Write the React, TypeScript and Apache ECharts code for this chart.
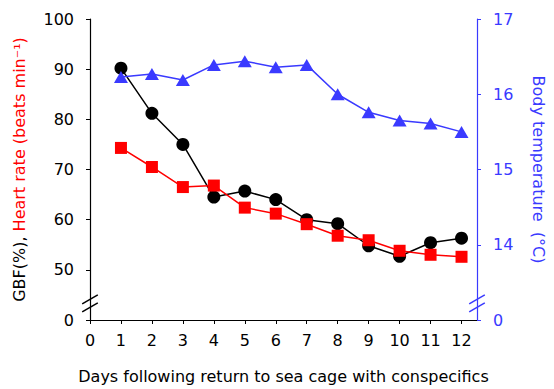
import React, { useEffect, useRef } from "react";
import * as echarts from "echarts";

const days = [1, 2, 3, 4, 5, 6, 7, 8, 9, 10, 11, 12];
const gbf = [90.2, 81.2, 75.0, 64.5, 65.7, 64.0, 60.0, 59.2, 54.8, 52.7, 55.4, 56.3];
const heartRate = [74.3, 70.5, 66.5, 66.8, 62.4, 61.2, 59.1, 56.8, 55.9, 53.8, 53.0, 52.6];
const bodyTemp = [16.23, 16.27, 16.19, 16.39, 16.44, 16.36, 16.39, 16.0, 15.76, 15.65, 15.61, 15.5];
const xTicks = [0, 1, 2, 3, 4, 5, 6, 7, 8, 9, 10, 11, 12];

const BLUE = "#3a3aff";
const RED = "#ff0000";
const FONT = "'DejaVu Sans', 'Liberation Sans', Arial, sans-serif";

export default function App() {
  const ref = useRef<HTMLDivElement>(null);
  useEffect(() => {
    document.body.style.margin = "0";
    if (!ref.current) return;
    const chart = echarts.init(ref.current, null, { renderer: "svg" });
    const pair = (vals: number[]) => days.map((d, i) => [d, vals[i]]);
    chart.setOption({
      animation: false,
      textStyle: { fontFamily: FONT },
      grid: { left: 90, right: 67, top: 19, bottom: 69 },
      xAxis: {
        type: "value",
        min: 0,
        max: 12.5,
        interval: 1,
        splitLine: { show: false },
        axisLine: { lineStyle: { color: "#000", width: 1.2 } },
        axisTick: { length: 4, lineStyle: { color: "#000" }, customValues: xTicks },
        axisLabel: { fontSize: 16, color: "#000", margin: 12, fontFamily: FONT, customValues: xTicks },
        name: "Days following return to sea cage with conspecifics",
        nameLocation: "middle",
        nameGap: 48,
        nameTextStyle: { fontSize: 16, color: "#000", fontFamily: FONT },
      },
      yAxis: [
        {
          type: "value",
          min: 40,
          max: 100,
          interval: 10,
          splitLine: { show: false },
          axisLine: { show: true, lineStyle: { color: "#000", width: 1.2 } },
          axisTick: { show: true, length: 4, lineStyle: { color: "#000" } },
          axisLabel: {
            fontSize: 16,
            color: "#000",
            margin: 16,
            fontFamily: FONT,
            formatter: (v: number) => (v === 40 ? "0" : String(v)),
          },
          name: "{k|GBF(%), }{r|Heart rate (beats min⁻¹)}",
          nameLocation: "middle",
          nameGap: 63,
          nameRotate: 90,
          nameTextStyle: {
            fontSize: 16,
            fontFamily: FONT,
            rich: {
              k: { color: "#000", fontSize: 16, fontFamily: FONT },
              r: { color: RED, fontSize: 16, fontFamily: FONT },
            },
          },
        },
        {
          type: "value",
          position: "right",
          min: 13,
          max: 17,
          interval: 1,
          splitLine: { show: false },
          axisLine: { show: true, lineStyle: { color: BLUE, width: 1.2 } },
          axisTick: { show: true, length: 4, lineStyle: { color: BLUE } },
          axisLabel: {
            fontSize: 16,
            color: BLUE,
            margin: 16,
            fontFamily: FONT,
            formatter: (v: number) => (v === 13 ? "0" : String(v)),
          },
          name: "Body temperature  (°C)",
          nameLocation: "middle",
          nameGap: 53,
          nameRotate: -90,
          nameTextStyle: { fontSize: 16, color: BLUE, fontFamily: FONT },
        },
      ],
      series: [
        {
          type: "line",
          name: "GBF",
          data: pair(gbf),
          yAxisIndex: 0,
          symbol: "circle",
          symbolSize: 13,
          itemStyle: { color: "#000" },
          lineStyle: { color: "#000", width: 1.5 },
          z: 2,
        },
        {
          type: "line",
          name: "Heart rate",
          data: pair(heartRate),
          yAxisIndex: 0,
          symbol: "rect",
          symbolSize: 12,
          itemStyle: { color: RED },
          lineStyle: { color: RED, width: 1.5 },
          z: 3,
        },
        {
          type: "line",
          name: "Body temperature",
          data: pair(bodyTemp),
          yAxisIndex: 1,
          symbol: "triangle",
          symbolSize: [14, 12],
          itemStyle: { color: BLUE },
          lineStyle: { color: BLUE, width: 1.5 },
          z: 4,
        },
      ],
    });

    const left = chart.convertToPixel({ xAxisIndex: 0, yAxisIndex: 0 }, [0, 43.3]) as number[];
    const right = chart.convertToPixel({ xAxisIndex: 0, yAxisIndex: 0 }, [12.5, 43.3]) as number[];
    const breakMarks = (c: number[], color: string) =>
      [-4, 4].map((off) => ({
        type: "line",
        shape: { x1: c[0] - 7.8, y1: c[1] + off + 4.5, x2: c[0] + 7.8, y2: c[1] + off - 4.5 },
        style: { stroke: color, lineWidth: 1.5 },
        z: 10,
      }));
    chart.setOption({
      graphic: [...breakMarks(left, "#000"), ...breakMarks(right, BLUE)],
    });

    return () => chart.dispose();
  }, []);
  return <div ref={ref} style={{ width: 554, height: 389 }} />;
}
